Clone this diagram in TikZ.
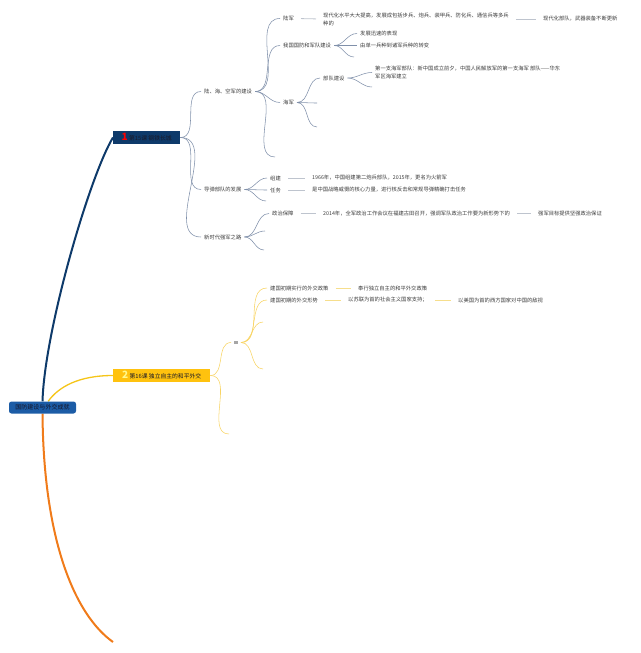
\documentclass[tikz,border=0pt]{standalone}
\usepackage{fontspec}
\setmainfont{Noto Sans CJK SC}
\usetikzlibrary{backgrounds}
\definecolor{rootblue}{RGB}{28,92,166}
\definecolor{navy}{RGB}{14,58,106}
\definecolor{gold}{RGB}{255,194,14}
\definecolor{goldline}{RGB}{245,197,24}
\definecolor{orangeline}{RGB}{240,123,26}
\definecolor{twigblue}{RGB}{128,144,170}
\definecolor{twiggold}{RGB}{248,212,100}
\definecolor{linkgray}{RGB}{190,196,206}
\definecolor{linkgold}{RGB}{246,222,140}
\definecolor{leafgray}{RGB}{60,60,60}
\tikzset{
  leaf/.style={anchor=west, inner xsep=3pt, inner ysep=0pt, text=leafgray, align=left, font=\fontsize{5.3}{8}\selectfont},
  lessonbox/.style={anchor=west, minimum width=67pt, minimum height=13pt, inner xsep=3pt, inner ysep=0pt, font=\fontsize{5.8}{7}\selectfont, text={rgb,255:red,25;green,25;blue,40}},
  rootbox/.style={fill=rootblue, rounded corners=2.5pt, minimum width=67pt, minimum height=12pt, inner sep=0pt, font=\fontsize{6}{7}\selectfont, text={rgb,255:red,20;green,20;blue,40}},
  twig/.style={draw=twigblue, line width=0.55pt},
  twigy/.style={draw=twiggold, line width=0.55pt},
  link/.style={draw=linkgray, line width=0.8pt, shorten <=4pt, shorten >=4pt},
  linky/.style={draw=linkgold, line width=0.8pt, shorten <=4pt, shorten >=4pt},
}
\begin{document}
\begin{tikzpicture}[x=1pt,y=-1pt]
\useasboundingbox (0,0) rectangle (640,653);

% main topics
\node[rootbox] (root) at (42.5,407.5) {国防建设与外交成就};
\node[lessonbox, fill=navy] (l1) at (113,137.5) {{\fontsize{10}{10}\selectfont\bfseries\textcolor{red}{1}}\ 第15课 钢铁长城};
\node[lessonbox, fill=gold, minimum width=97pt] (l2) at (113,375.5) {{\fontsize{10}{10}\selectfont\bfseries\textcolor{yellow!45!white}{2}}\ 第16课 独立自主的和平外交};
\coordinate (l3) at (113,642);

% lesson 15
\node[leaf] (lhk) at (201,91.5) {陆、海、空军的建设};
\node[leaf] (ddb) at (201,189.5) {导弹部队的发展};
\node[leaf] (xsd) at (201,237) {新时代强军之路};

\node[leaf] (luj) at (280,18.5) {陆军};
\node[leaf] (luj1) at (320,19) {现代化水平大大提高，发展成包括步兵、炮兵、装甲兵、防化兵、通信兵等多兵\\种的};
\node[leaf] (luj2) at (540,19) {现代化部队，武器装备不断更新};
\node[leaf] (gfj) at (280,45.5) {我国国防和军队建设};
\node[leaf] (gfj1) at (357,33.5) {发展迅速的表现};
\node[leaf] (gfj2) at (357,45.5) {由单一兵种到诸军兵种的转变};
\coordinate (gfj3) at (354,57);
\node[leaf] (haj) at (280,102.5) {海军};
\node[leaf] (bdj) at (320,78) {部队建设};
\node[leaf] (bdj1) at (372,72.5) {第一支海军部队：新中国成立前夕，中国人民解放军的第一支海军 部队——华东\\军区海军建立};
\coordinate (bdj2) at (372,87);
\coordinate (haj2) at (317,103);
\coordinate (haj3) at (317,127);
\coordinate (lhk4) at (275,157);

\node[leaf] (zj) at (267,178) {组建};
\node[leaf] (zj1) at (309,178) {1966年，中国组建第二炮兵部队，2015年，更名为火箭军};
\node[leaf] (rw) at (267,190) {任务};
\node[leaf] (rw1) at (309,190) {是中国战略威慑的核心力量，进行核反击和常规导弹精确打击任务};
\coordinate (ddb3) at (266,201);

\node[leaf] (zzb) at (269,213.5) {政治保障};
\node[leaf] (zzb1) at (320,213.5) {2014年，全军政治工作会议在福建古田召开，强调军队政治工作要为新形势下的};
\node[leaf] (zzb2) at (535,213.5) {强军目标提供坚强政治保证};
\coordinate (xsd2) at (265,231);
\coordinate (xsd3) at (264,250);

% lesson 16
\node[fill=gray!70, minimum width=4pt, minimum height=3pt, inner sep=0pt, outer xsep=3pt] (tg) at (236,342.5) {};
\node[leaf] (zc) at (267,288) {建国初期实行的外交政策};
\node[leaf] (zc1) at (355,288) {奉行独立自主的和平外交政策};
\node[leaf] (xs) at (267,300) {建国初期的外交形势};
\node[leaf] (xs1) at (345,300) {以苏联为首的社会主义国家支持；};
\node[leaf] (xs2) at (455,300) {以美国为首的西方国家对中国的敌视};
\coordinate (tg3) at (263,322);
\coordinate (tg4) at (263,369);
\coordinate (l2b) at (229,434);

\begin{scope}[on background layer]
  \draw[navy, line width=2pt] (root.north) .. controls +(2,-71) and +(-23,37.5) .. (l1.west);
  \draw[goldline, line width=1.3pt] (root.north east) ++(-28,0) .. controls +(10,-14) and +(-35,0) .. (l2.west);
  \draw[orangeline, line width=2pt] (root.south) .. controls +(1,127) and +(-38,-27) .. (l3);

  \draw[twig] (l1.east) to[out=0,in=180] (lhk.west);
  \draw[twig] (l1.east) to[out=0,in=180] (ddb.west);
  \draw[twig] (l1.east) to[out=0,in=180] (xsd.west);

  \draw[twig] (lhk.east) to[out=0,in=180] (luj.west);
  \draw[twig] (lhk.east) to[out=0,in=180] (gfj.west);
  \draw[twig] (lhk.east) to[out=0,in=180] (haj.west);
  \draw[twig] (lhk.east) to[out=0,in=180] (lhk4);
  \draw[link] (luj.east) -- (luj1.west);
  \draw[link] (luj1.east) -- (luj2.west);
  \draw[twig] (gfj.east) to[out=0,in=180] (gfj1.west);
  \draw[twig] (gfj.east) to[out=0,in=180] (gfj2.west);
  \draw[twig] (gfj.east) to[out=0,in=180] (gfj3);
  \draw[twig] (haj.east) to[out=0,in=180] (bdj.west);
  \draw[twig] (haj.east) to[out=0,in=180] (haj2);
  \draw[twig] (haj.east) to[out=0,in=180] (haj3);
  \draw[twig] (bdj.east) to[out=0,in=180] (bdj1.west);
  \draw[twig] (bdj.east) to[out=0,in=180] (bdj2);

  \draw[twig] (ddb.east) to[out=0,in=180] (zj.west);
  \draw[twig] (ddb.east) to[out=0,in=180] (rw.west);
  \draw[twig] (ddb.east) to[out=0,in=180] (ddb3);
  \draw[link] (zj.east) -- (zj1.west);
  \draw[link] (rw.east) -- (rw1.west);

  \draw[twig] (xsd.east) to[out=0,in=180] (zzb.west);
  \draw[twig] (xsd.east) to[out=0,in=180] (xsd2);
  \draw[twig] (xsd.east) to[out=0,in=180] (xsd3);
  \draw[link] (zzb.east) -- (zzb1.west);
  \draw[link] (zzb1.east) -- (zzb2.west);

  \draw[twigy] (l2.east) to[out=0,in=180] (tg.west);
  \draw[twigy] (l2.east) to[out=0,in=180] (l2b);
  \draw[twigy] (tg.east) to[out=0,in=180] (zc.west);
  \draw[twigy] (tg.east) to[out=0,in=180] (xs.west);
  \draw[twigy] (tg.east) to[out=0,in=180] (tg3);
  \draw[twigy] (tg.east) to[out=0,in=180] (tg4);
  \draw[linky] (zc.east) -- (zc1.west);
  \draw[linky] (xs.east) -- (xs1.west);
  \draw[linky] (xs1.east) -- (xs2.west);
\end{scope}
\end{tikzpicture}
\end{document}
